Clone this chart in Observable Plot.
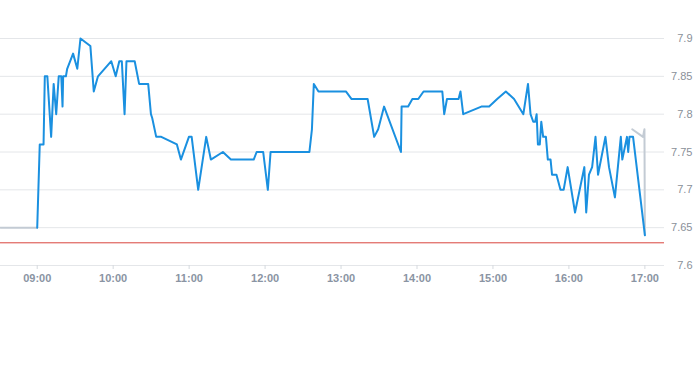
<!DOCTYPE html>
<html>
<head>
<meta charset="utf-8">
<script src="https://cdn.jsdelivr.net/npm/d3@7"></script>
<script src="https://cdn.jsdelivr.net/npm/@observablehq/plot@0.6"></script>
<style>
  html, body { margin: 0; padding: 0; background: #fff; }
  #chart svg { display: block; }
</style>
</head>
<body>
<div id="chart"></div>
<script>
// ---- Data ----
const blueTimes = [
  "09:00","09:02","09:05","09:06","09:08","09:11","09:13","09:15","09:17","09:19",
  "09:20","09:20:30","09:22:40","09:23:40","09:28:20","09:31:40","09:34:10","09:42","09:44:40","09:48",
  "09:58:30","10:02","10:04:50","10:06:50","10:09","10:10:30","10:17","10:20:30","10:27:40","10:29:50",
  "10:30:50","10:34","10:38","10:50:20","10:53:30","10:59:50","11:02","11:07:10","11:13:30","11:17:10",
  "11:26:40","11:33","11:51","11:53:20","11:58:30","12:02:10","12:04:20","12:35","12:37","12:38:30",
  "12:42:10","13:03:50","13:08:20","13:21","13:26:10","13:29:20","13:34","13:47:20","13:47:50","13:53",
  "13:56:20","14:01","14:05:10","14:20","14:21:30","14:23:40","14:32:50","14:34:20","14:36:30","14:50:50",
  "14:57","15:03:20","15:10:10","15:16:40","15:24","15:27:40","15:29:40","15:31:50","15:33:20","15:34:30",
  "15:35:30","15:37","15:38:10","15:39:40","15:41:50","15:43:20","15:45:30","15:46:40","15:50:10","15:53:20",
  "15:55:50","15:59","16:04:50","16:12:10","16:13:40","16:15:50","16:18:20","16:21","16:23","16:28:50",
  "16:31:40","16:36:20","16:41","16:42:10","16:45:50","16:46:50","16:47:50","16:50:40","17:00"
];
const blueValues = [
  7.65,7.76,7.76,7.85,7.85,7.77,7.84,7.80,7.85,7.85,
  7.81,7.85,7.85,7.86,7.88,7.86,7.90,7.89,7.83,7.85,
  7.87,7.85,7.87,7.87,7.80,7.87,7.87,7.84,7.84,7.80,
  7.795,7.77,7.77,7.76,7.74,7.77,7.77,7.70,7.77,7.74,
  7.75,7.74,7.74,7.75,7.75,7.70,7.75,7.75,7.78,7.84,
  7.83,7.83,7.82,7.82,7.77,7.78,7.81,7.75,7.81,7.81,
  7.82,7.82,7.83,7.83,7.80,7.82,7.82,7.83,7.80,7.81,
  7.81,7.82,7.83,7.82,7.80,7.84,7.80,7.79,7.79,7.80,
  7.76,7.76,7.79,7.77,7.77,7.74,7.74,7.72,7.72,7.70,
  7.70,7.73,7.67,7.73,7.67,7.72,7.73,7.77,7.72,7.77,
  7.73,7.69,7.77,7.74,7.77,7.75,7.77,7.77,7.64
];
const greyTimes    = ["08:31","09:00","16:50","16:58:30","16:59:40","17:00"];
const greyValues   = [7.65, 7.65, 7.78, 7.77, 7.78, 7.64];
const greySegments = ["pre","pre","post","post","post","post"];
const referenceValue = 7.63;
const xTickLabels = ["09:00","10:00","11:00","12:00","13:00","14:00","15:00","16:00","17:00"];
const yTickValues = [7.6, 7.65, 7.7, 7.75, 7.8, 7.85, 7.9];
const xDomainLabels = ["08:31", "17:15:30"];
const yDomain = [7.6, 7.9];

// ---- Helpers ----
const toDate = s => {
  const [h, m, sec = 0] = s.split(":").map(Number);
  return new Date(Date.UTC(2024, 0, 2, h, m, sec));
};
const blue = blueTimes.map((t, i) => ({time: toDate(t), value: blueValues[i]}));
const grey = greyTimes.map((t, i) => ({time: toDate(t), value: greyValues[i], seg: greySegments[i]}));

const chart = Plot.plot({
  width: 693,
  height: 365,
  marginLeft: 0,
  marginRight: 29,
  marginTop: 38,
  marginBottom: 100,
  style: {fontFamily: "'Liberation Sans', Arial, sans-serif", background: "#fff"},
  x: {type: "utc", domain: xDomainLabels.map(toDate)},
  y: {domain: yDomain},
  marks: [
    Plot.gridY(yTickValues, {stroke: "#e4e6e9", strokeOpacity: 1}),
    Plot.ruleY([referenceValue], {stroke: "#d9453e", strokeWidth: 1}),
    Plot.line(grey, {x: "time", y: "value", z: "seg", stroke: "#c3cbd4", strokeWidth: 2}),
    Plot.line(blue, {x: "time", y: "value", stroke: "#1a90e0", strokeWidth: 2}),
    Plot.axisX(xTickLabels.map(toDate), {
      tickFormat: d3.utcFormat("%H:%M"),
      tickSize: 4, tickPadding: 5,
      stroke: "#d5d9de", fill: "#8a94a3",
      fontSize: 11, fontWeight: "bold", label: null
    }),
    Plot.axisY(yTickValues, {
      anchor: "right",
      tickFormat: d => String(d),
      tickSize: 0, tickPadding: 28,
      textAnchor: "end",
      fill: "#8a9099", fontSize: 11, label: null
    })
  ]
});
document.getElementById("chart").appendChild(chart);
</script>
</body>
</html>
